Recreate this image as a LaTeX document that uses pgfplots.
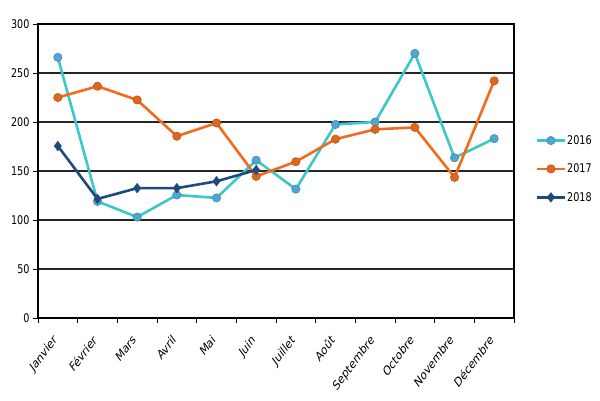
\documentclass[border=0pt]{standalone}
\usepackage{pgfplots}
\pgfplotsset{compat=1.18}
\usepackage{fontspec}
\setmainfont{DejaVu Sans}[FakeStretch=0.8]
\newfontfamily\labfont{DejaVu Sans}
\definecolor{c16line}{HTML}{3CC8C8}
\definecolor{c16mark}{HTML}{4FA6D2}
\definecolor{c17line}{HTML}{F26B1D}
\definecolor{c17mark}{HTML}{E0661E}
\definecolor{c18line}{HTML}{1F4A7E}
\begin{document}
\begin{tikzpicture}[x=1pt,y=1pt]
\path[use as bounding box] (0,0) rectangle (600,400);
\begin{axis}[
  at={(38pt,82pt)}, anchor=south west,
  scale only axis, width=476pt, height=294pt,
  xmin=-0.5, xmax=11.5, ymin=0, ymax=300,
  xtick={0,...,11},
  xticklabels={Janvier,Février,Mars,Avril,Mai,Juin,Juillet,Août,Septembre,Octobre,Novembre,Décembre},
  x tick label style={cm={0.5303,0.7071,-0.5303,0.7071,(0,0)}, anchor=north east, font=\labfont\fontsize{13}{14}\selectfont, inner sep=1pt, xshift=-11.8pt, yshift=-1.2pt},
  major x tick style={draw=none},
  minor xtick={-0.5,0.5,...,11.5},
  minor x tick style={black, line width=0.9pt},
  minor tick length=5pt,
  ytick={0,50,...,300},
  y tick label style={font=\fontsize{12}{13}\selectfont},
  major y tick style={black, line width=0.9pt},
  major tick length=5pt,
  tick align=outside,
  xtick pos=bottom, ytick pos=left,
  ymajorgrids, grid style={black!85, line width=1.1pt},
  axis line style={black, line width=1.1pt},
  /pgf/number format/assume math mode=true,
  legend style={at={(1.045,0.507)}, anchor=west, draw=none, fill=none,
    font=\fontsize{12}{13}\selectfont, row sep=16pt, inner sep=0pt,
    nodes={inner sep=1pt}},
  legend cell align=left,
  legend image code/.code={
    \draw[mark repeat=2,mark phase=2] plot coordinates {(0pt,0pt)(14pt,0pt)(28pt,0pt)};
  },
]
\addplot[c16line, line width=2.6pt, mark=*, mark size=4.2pt,
  mark options={fill=c16mark, draw=c16mark!80!black, line width=0.5pt}]
coordinates {(0,266)(1,119)(2,103)(3,125.5)(4,122.5)(5,161)(6,131.5)(7,197.5)(8,200)(9,270)(10,163.5)(11,183)};
\addlegendentry{2016}
\addplot[c17line, line width=2.6pt, mark=*, mark size=4.2pt,
  mark options={fill=c17mark, draw=c17mark!80!black, line width=0.5pt}]
coordinates {(0,225)(1,236.5)(2,222.5)(3,185.5)(4,199)(5,144.5)(6,159.5)(7,182.5)(8,192.5)(9,194.5)(10,143.5)(11,242)};
\addlegendentry{2017}
\addplot[c18line, line width=2.6pt, mark=diamond*, mark size=4.8pt,
  mark options={fill=c18line, draw=c18line, line width=0.5pt}]
coordinates {(0,175.5)(1,121.5)(2,132.5)(3,132.5)(4,139.5)(5,151)};
\addlegendentry{2018}
\end{axis}
\end{tikzpicture}
\end{document}
